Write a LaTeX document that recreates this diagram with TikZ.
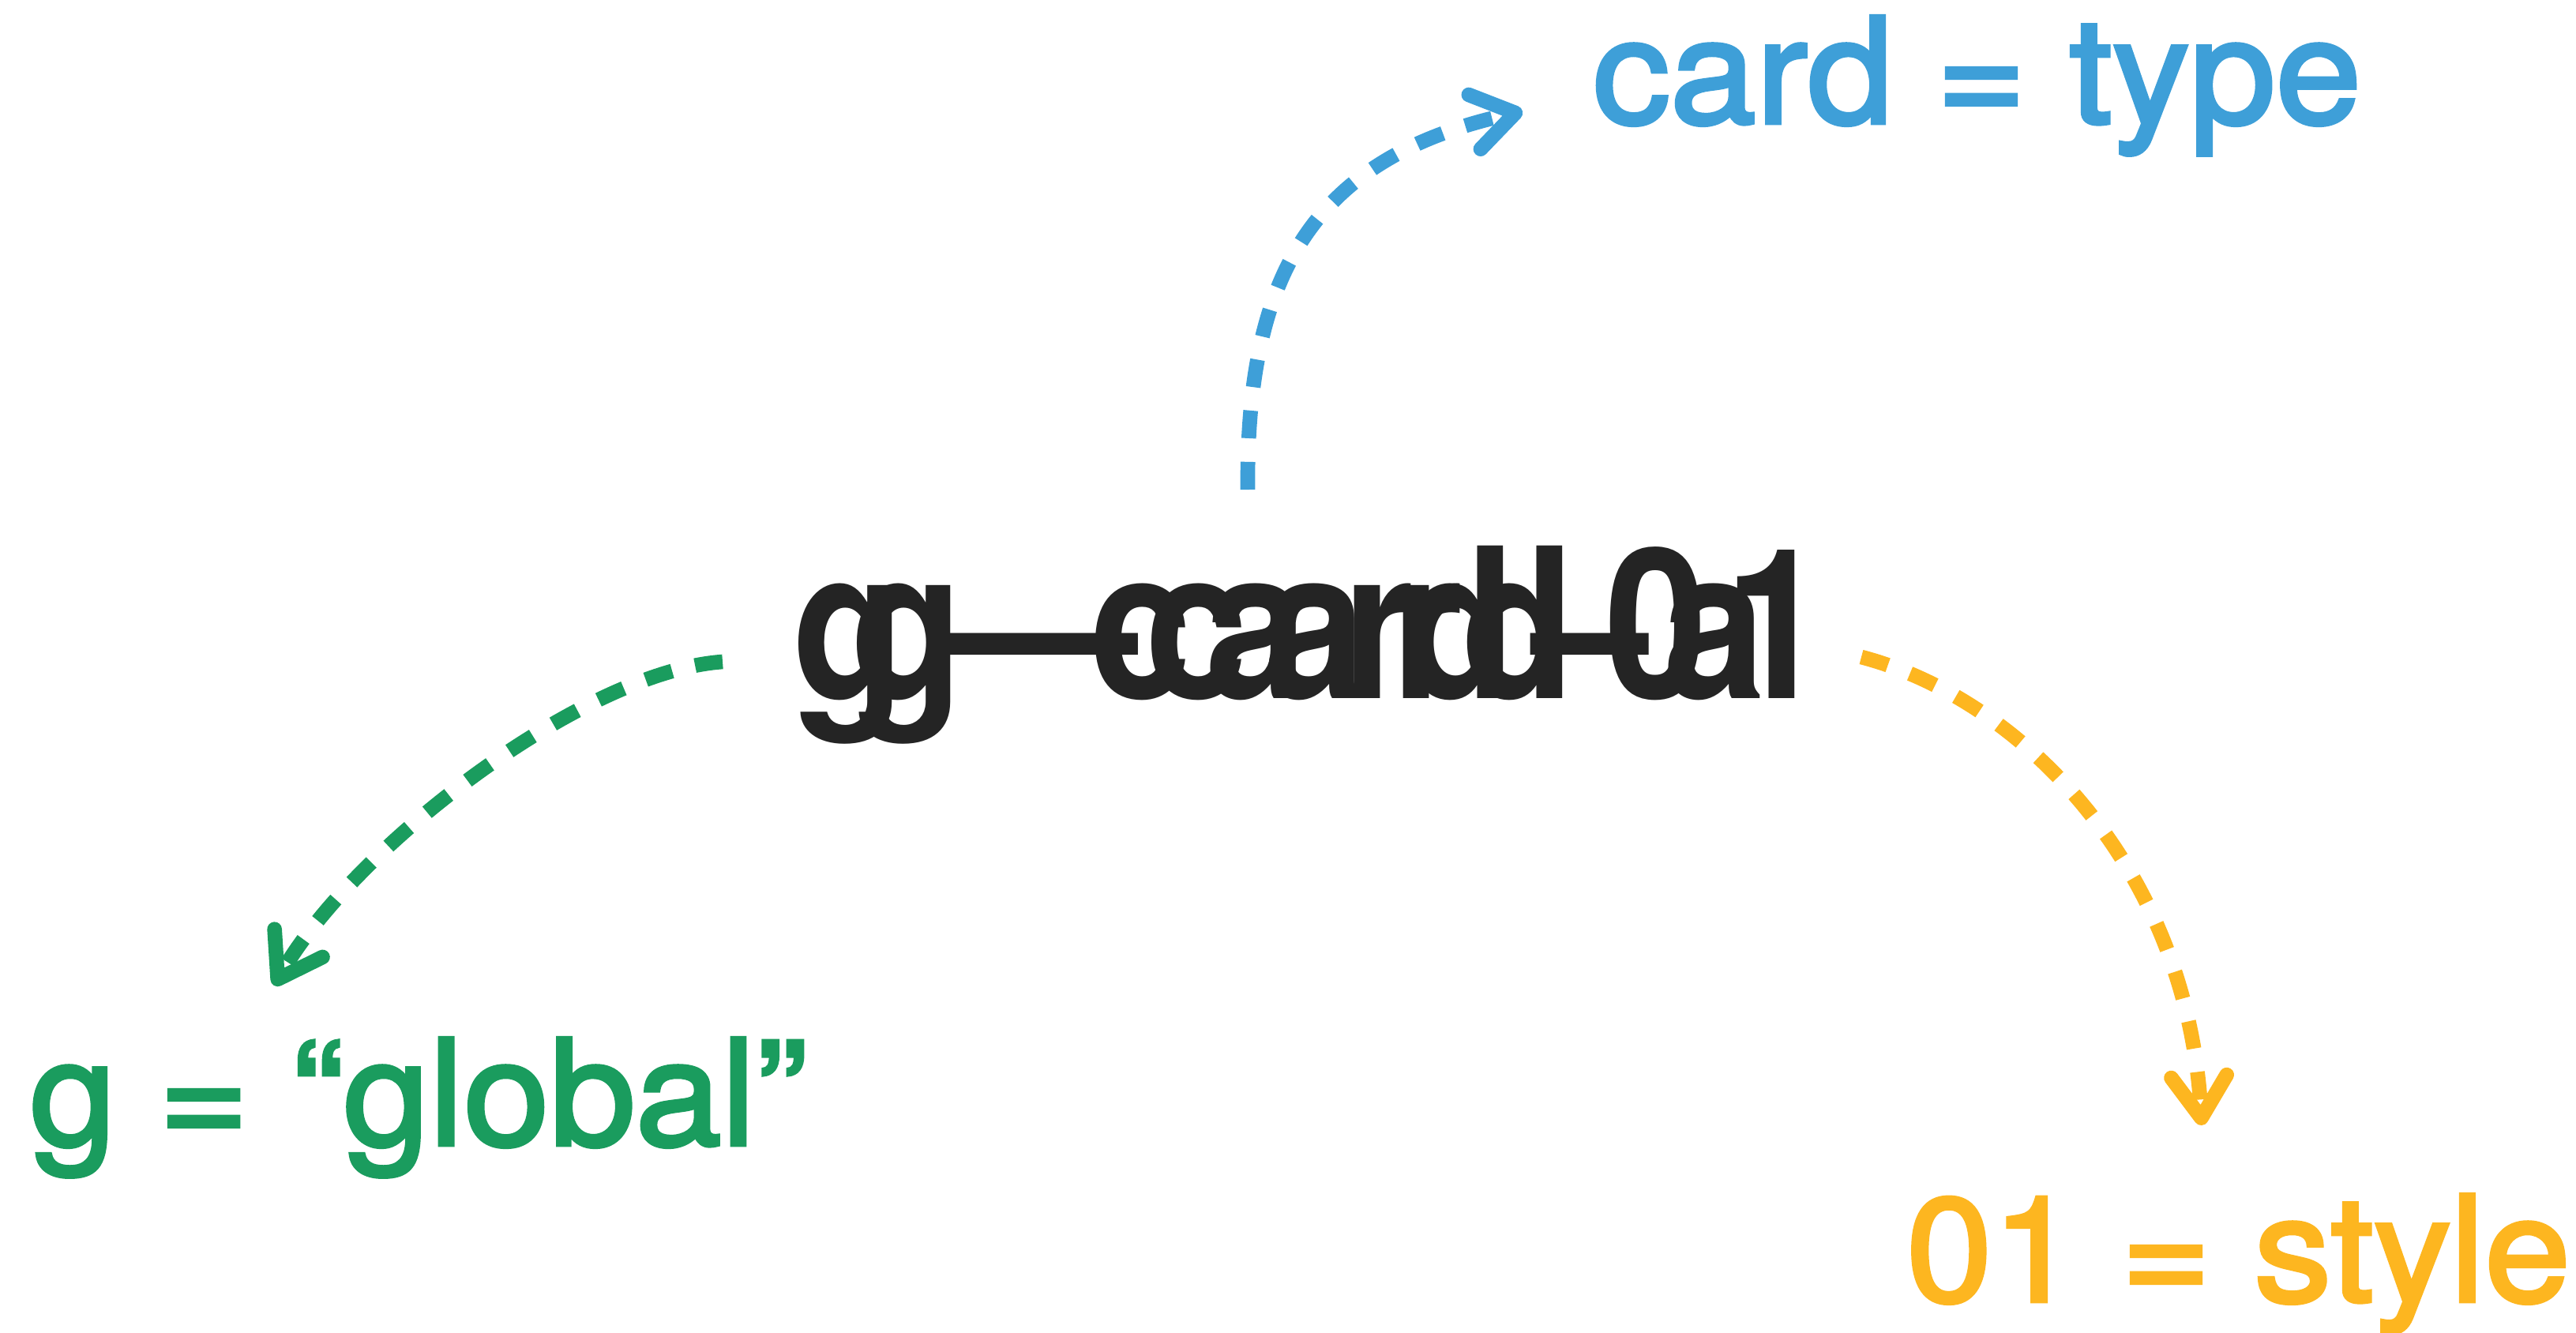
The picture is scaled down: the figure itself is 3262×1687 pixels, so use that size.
\documentclass[tikz,border=0pt]{standalone}
\usepackage{fontspec}
\setmainfont{TeX Gyre Heros}
\newfontfamily\condheros[FakeStretch=0.88]{TeX Gyre Heros}
\newfontfamily\medheros[FakeStretch=1.05,FakeBold=2.5]{TeX Gyre Heros}
\usetikzlibrary{arrows.meta}
\definecolor{cblue}{RGB}{62,159,216}
\definecolor{cgreen}{RGB}{26,156,94}
\definecolor{cyellow}{RGB}{253,182,32}
\definecolor{cdark}{RGB}{36,36,36}
\tikzset{
  glyph/.style={anchor=base west, inner sep=0pt, outer sep=0pt, text=cdark,
    font=\condheros\bfseries\fontsize{75.4pt}{80pt}\selectfont},
  dashglyph/.style={anchor=base west, inner sep=0pt, outer sep=0pt, text=cdark,
    font=\bfseries\fontsize{75.4pt}{80pt}\selectfont},
  lbl/.style={anchor=base west, inner sep=0pt, outer sep=0pt,
    font=\medheros\fontsize{53pt}{60pt}\selectfont},
  conn/.style={line width=5.3pt, dash pattern=on 10pt off 8.5pt,
    -{Straight Barb[round,length=15pt,width=20pt]}}
}
\begin{document}
\begin{tikzpicture}[x=0.01cm,y=-0.01cm]
\fill[white] (0,0) rectangle (3262,1687);
\useasboundingbox (0,0) rectangle (3262,1687);

% central overlapping text
\node[glyph] (gA) at (1003,884) {g};
\node[glyph] (gB) at (1077,884) {g};
\node[dashglyph] (dash1) at (1175,884) {—};
\node[glyph] (cA) at (1379,884) {c};
\node[glyph] (cB) at (1450,884) {c};
\node[glyph] (aA) at (1526,884) {a};
\node[glyph] (aB) at (1600,884) {a};
\node[glyph] (rA) at (1700,884) {r};
\node[glyph] (rB) at (1762,884) {r};
\node[glyph] (dA) at (1776,884) {d};
\node[glyph] (dB) at (1851,884) {d};
\node[dashglyph] (dash2) at (1940,884) {–};
\node[glyph] (zero) at (2032,884) {0};
\node[glyph] (aC) at (2106,884) {a};
\node[glyph] (one) at (2184,884) {1};

% labels
\node[lbl, text=cblue] (card) at (2017,156) {card = type};
\node[lbl, text=cgreen] (glob) at (38,1450) {g = “global”};
\node[lbl, text=cyellow] (style) at (2414,1648) {01 = style};

% connector end points
\coordinate (bS) at (1580,620);
\coordinate (bE) at (1928,141);
\coordinate (gS) at (915,838);
\coordinate (gE) at (347,1248);
\coordinate (yS) at (2357,832);
\coordinate (yE) at (2788,1425);

\draw[conn, cblue] (bS) .. controls (1578,350) and (1660,200) .. (bE);
\draw[conn, cgreen] (gS) .. controls (740,850) and (450,1070) .. (gE);
\draw[conn, cyellow] (yS) .. controls (2560,885) and (2770,1100) .. (yE);
\end{tikzpicture}
\end{document}
